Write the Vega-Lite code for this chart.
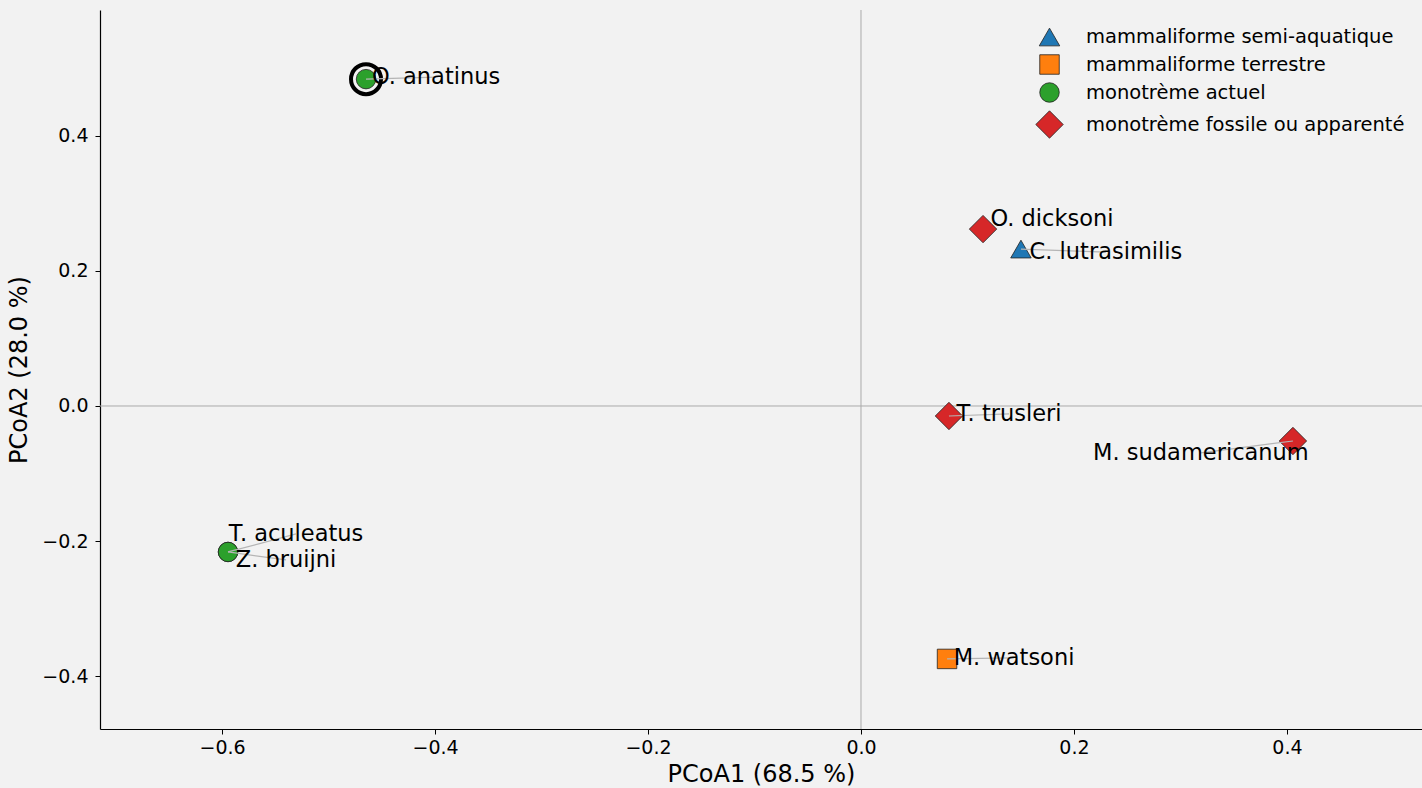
{
  "$schema": "https://vega.github.io/schema/vega-lite/v6.json",
  "autosize": {"type": "none"},
  "padding": {"left": 100, "top": 10, "right": 0, "bottom": 59},
  "width": 1322,
  "height": 719,
  "background": "#f2f2f2",
  "config": {
    "view": {"stroke": null},
    "font": "DejaVu Sans",
    "axis": {
      "domainColor": "#000000", "domainWidth": 1.2,
      "tickColor": "#000000", "tickSize": 5, "tickWidth": 1,
      "labelFont": "DejaVu Sans", "labelFontSize": 19, "labelColor": "#000000",
      "titleFont": "DejaVu Sans", "titleFontSize": 24, "titleFontWeight": "normal", "titleColor": "#000000",
      "grid": false
    },
    "legend": {
      "orient": "none", "legendX": 935, "legendY": 16, "padding": 0,
      "labelFontSize": 19.5, "labelFont": "DejaVu Sans", "labelColor": "#000000", "labelLimit": 0,
      "symbolStrokeColor": "#222222", "symbolStrokeWidth": 0.8,
      "labelOffset": 22, "rowPadding": 5
    }
  },
  "datasets": {
    "taxa": [
      {"name": "O. anatinus", "group": "monotrème actuel", "x": -0.4648, "y": 0.4837, "lx": -0.399, "ly": 0.4867, "focal": true},
      {"name": "T. aculeatus", "group": "monotrème actuel", "x": -0.5944, "y": -0.216, "lx": -0.5305, "ly": -0.1893, "focal": false},
      {"name": "Z. bruijni", "group": "monotrème actuel", "x": -0.5944, "y": -0.216, "lx": -0.5399, "ly": -0.2278, "focal": false},
      {"name": "O. dicksoni", "group": "monotrème fossile ou apparenté", "x": 0.1146, "y": 0.2618, "lx": 0.1793, "ly": 0.2766, "focal": false},
      {"name": "C. lutrasimilis", "group": "mammaliforme semi-aquatique", "x": 0.1502, "y": 0.2322, "lx": 0.2300, "ly": 0.2278, "focal": false},
      {"name": "T. trusleri", "group": "monotrème fossile ou apparenté", "x": 0.0826, "y": -0.0148, "lx": 0.1390, "ly": -0.0118, "focal": false},
      {"name": "M. sudamericanum", "group": "monotrème fossile ou apparenté", "x": 0.4056, "y": -0.0518, "lx": 0.3192, "ly": -0.0695, "focal": false},
      {"name": "M. watsoni", "group": "mammaliforme terrestre", "x": 0.0808, "y": -0.3743, "lx": 0.1437, "ly": -0.3728, "focal": false}
    ]
  },
  "data": {"name": "taxa"},
  "layer": [
    {
      "data": {"values": [{}]},
      "mark": {"type": "rule", "color": "#aaaaaa", "strokeWidth": 1},
      "encoding": {"x": {"datum": 0, "type": "quantitative", "scale": {"domain": [-0.7146, 0.5268], "nice": false, "zero": false}}}
    },
    {
      "data": {"values": [{}]},
      "mark": {"type": "rule", "color": "#aaaaaa", "strokeWidth": 1},
      "encoding": {"y": {"datum": 0, "type": "quantitative", "scale": {"domain": [-0.478, 0.586], "nice": false, "zero": false}}}
    },
    {
      "mark": {"type": "point", "filled": true, "opacity": 1, "stroke": "#222222", "strokeWidth": 0.8},
      "encoding": {
        "x": {"field": "x", "type": "quantitative", "title": "PCoA1 (68.5 %)",
              "scale": {"domain": [-0.7146, 0.5268], "nice": false, "zero": false},
              "axis": {"values": [-0.6, -0.4, -0.2, 0, 0.2, 0.4], "format": ".1f", "labelPadding": 4, "titlePadding": 5}},
        "y": {"field": "y", "type": "quantitative", "title": "PCoA2 (28.0 %)",
              "scale": {"domain": [-0.478, 0.586], "nice": false, "zero": false},
              "axis": {"values": [-0.4, -0.2, 0, 0.2, 0.4], "format": ".1f", "labelPadding": 7, "titlePadding": 10}},
        "color": {"field": "group", "type": "nominal", "title": null,
          "scale": {"domain": ["mammaliforme semi-aquatique", "mammaliforme terrestre", "monotrème actuel", "monotrème fossile ou apparenté"],
                    "range": ["#1f77b4", "#ff7f0e", "#2ca02c", "#d62728"]}},
        "shape": {"field": "group", "type": "nominal", "title": null,
          "scale": {"domain": ["mammaliforme semi-aquatique", "mammaliforme terrestre", "monotrème actuel", "monotrème fossile ou apparenté"],
                    "range": ["triangle-up", "square", "circle", "diamond"]}},
        "size": {"field": "group", "type": "nominal", "title": null,
          "scale": {"type": "ordinal", "domain": ["mammaliforme semi-aquatique", "mammaliforme terrestre", "monotrème actuel", "monotrème fossile ou apparenté"],
                    "range": [420, 380, 380, 750]}}
      }
    },
    {
      "transform": [{"filter": "datum.focal"}],
      "mark": {"type": "point", "filled": false, "stroke": "#000000", "strokeWidth": 4, "size": 900, "opacity": 1},
      "encoding": {
        "x": {"field": "x", "type": "quantitative"},
        "y": {"field": "y", "type": "quantitative"}
      }
    },
    {
      "transform": [{"filter": "datum.name !== 'O. dicksoni'"}],
      "mark": {"type": "rule", "color": "#b5b5b5", "strokeWidth": 1.2},
      "encoding": {
        "x": {"field": "x", "type": "quantitative"},
        "y": {"field": "y", "type": "quantitative"},
        "x2": {"field": "lx"},
        "y2": {"field": "ly"}
      }
    },
    {
      "mark": {"type": "text", "font": "DejaVu Sans", "fontSize": 22.5, "align": "center", "baseline": "middle", "color": "#000000"},
      "encoding": {
        "x": {"field": "lx", "type": "quantitative"},
        "y": {"field": "ly", "type": "quantitative"},
        "text": {"field": "name"}
      }
    }
  ]
}
